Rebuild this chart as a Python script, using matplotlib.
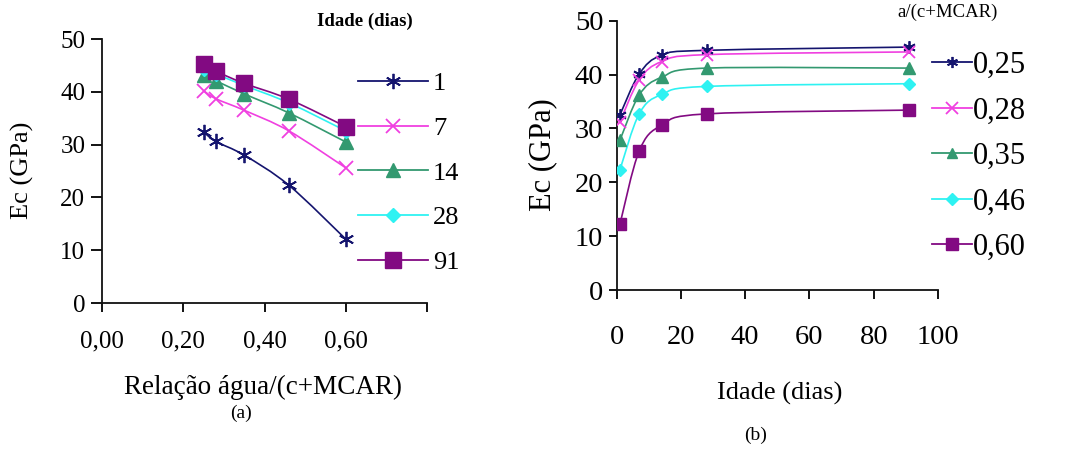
import numpy as np
import matplotlib
matplotlib.use("Agg")
import matplotlib.pyplot as plt
from matplotlib.path import Path
from matplotlib.patches import PathPatch
from matplotlib.lines import Line2D

plt.rcParams['font.family'] = ['Liberation Serif', 'DejaVu Serif']

# ---- Panel (a): Ec vs water/(c+MCAR) ratio, one series per age ----
ratio = [0.25, 0.28, 0.35, 0.46, 0.60]
age_labels = ['1', '7', '14', '28', '91']
ec_day1 = [32.4, 30.6, 28.0, 22.3, 12.1]
ec_day7 = [40.2, 38.7, 36.5, 32.6, 25.6]
ec_day14 = [43.1, 42.1, 39.6, 36.0, 30.5]
ec_day28 = [44.4, 43.4, 41.2, 37.9, 32.6]
ec_day91 = [45.2, 43.9, 41.6, 38.6, 33.4]

# ---- Panel (b): Ec vs age, one series per ratio ----
age = [1, 7, 14, 28, 91]
ratio_labels = ['0,25', '0,28', '0,35', '0,46', '0,60']
ec_r025 = [32.5, 40.1, 43.6, 44.5, 45.1]
ec_r028 = [31.2, 39.0, 42.4, 43.7, 44.2]
ec_r035 = [27.8, 36.2, 39.5, 41.2, 41.2]
ec_r046 = [22.3, 32.7, 36.3, 37.8, 38.3]
ec_r060 = [12.2, 25.8, 30.6, 32.7, 33.4]

colors = ['#14146e', '#f040e0', '#339970', '#2ef2f2', '#820a82']
markers = [(6, 2, 0), 'x', '^', 'D', 's']

def smooth_path(x, y):
    pts = np.column_stack([x, y]).astype(float)
    n = len(pts)
    verts = [pts[0]]
    codes = [Path.MOVETO]
    for i in range(n - 1):
        p0 = pts[i - 1] if i > 0 else pts[i]
        p1 = pts[i]
        p2 = pts[i + 1]
        p3 = pts[i + 2] if i + 2 < n else pts[i + 1]
        c1 = p1 + (p2 - p0) / 6.0
        c2 = p2 - (p3 - p1) / 6.0
        verts += [c1, c2, p2]
        codes += [Path.CURVE4] * 3
    return Path(verts, codes)

def marker_kw(c, m, ms):
    if m == 'x' or isinstance(m, tuple):
        return dict(marker=m, ms=ms, mec=c, mew=1.3)
    return dict(marker=m, ms=ms, mfc=c, mec=c)

fig = plt.figure(figsize=(10.9, 4.54), dpi=100)

def style_axes(ax):
    for s in ['top', 'right']:
        ax.spines[s].set_visible(False)
    for s in ['left', 'bottom']:
        ax.spines[s].set_linewidth(1.3)
        ax.spines[s].set_color('#111111')

# ---------- Left panel ----------
axL = fig.add_axes([102/1090, 1-303/454, 325/1090, 264/454])
style_axes(axL)
seriesL = [ec_day1, ec_day7, ec_day14, ec_day28, ec_day91]
msL = [11, 10, 10, 7, 11]
for yv, c, m, ms in zip(seriesL, colors, markers, msL):
    axL.add_patch(PathPatch(smooth_path(ratio, yv), facecolor='none',
                            edgecolor=c, lw=1.2, zorder=2))
    axL.plot(ratio, yv, ls='none', zorder=3, **marker_kw(c, m, ms))
axL.set_xlim(0, 0.8)
axL.set_ylim(0, 50)
axL.set_xticks([0, 0.2, 0.4, 0.6, 0.8])
axL.set_xticklabels(['0,00', '0,20', '0,40', '0,60', ''])
axL.set_yticks([0, 10, 20, 30, 40, 50])
axL.tick_params(axis='x', direction='out', length=6.5, width=1.3, pad=13, labelsize=18)
axL.tick_params(axis='y', direction='out', length=8, width=1.3, pad=4, labelsize=18)

handlesL = [Line2D([], [], color=c, lw=1.3, **marker_kw(c, m, ms))
            for c, m, ms in zip(colors, markers, msL)]
fig.legend(handlesL, age_labels, loc='upper left',
           bbox_to_anchor=(358/1090, 1-72/454), frameon=False,
           fontsize=19, handlelength=2.65, handletextpad=0.19,
           labelspacing=0.8, borderpad=0, borderaxespad=0)

fig.text(22/1090, 1-170/454, 'Ec (GPa)', rotation=90, ha='center', va='center', fontsize=19)
fig.text(263/1090, 1-387/454, 'Relação água/(c+MCAR)', ha='center', va='center', fontsize=19.5)
fig.text(241/1090, 1-413/454, '(a)', ha='center', va='center', fontsize=14)
fig.text(365/1090, 1-21/454, 'Idade (dias)', ha='center', va='center', fontsize=13.5, weight='bold')

# ---------- Right panel ----------
axR = fig.add_axes([616.7/1090, 1-290/454, 321.3/1090, 269.3/454])
style_axes(axR)
seriesR = [ec_r025, ec_r028, ec_r035, ec_r046, ec_r060]
msR = [9, 9, 8, 6.5, 9]
for yv, c, m, ms in zip(seriesR, colors, markers, msR):
    axR.add_patch(PathPatch(smooth_path(age, yv), facecolor='none',
                            edgecolor=c, lw=1.2, zorder=2))
    axR.plot(age, yv, ls='none', zorder=3, **marker_kw(c, m, ms))
axR.set_xlim(0, 100)
axR.set_ylim(0, 50)
axR.set_xticks([0, 20, 40, 60, 80, 100])
axR.set_yticks([0, 10, 20, 30, 40, 50])
axR.tick_params(axis='x', direction='out', length=6.5, width=1.3, pad=19, labelsize=20.5)
axR.tick_params(axis='y', direction='out', length=6, width=1.3, pad=3.6, labelsize=20.5)

msRl = [8, 8, 7, 6, 8]
handlesR = [Line2D([], [], color=c, lw=1.3, **marker_kw(c, m, ms))
            for c, m, ms in zip(colors, markers, msRl)]
fig.legend(handlesR, ratio_labels, loc='upper left',
           bbox_to_anchor=(932/1090, 1-51/454), frameon=False,
           fontsize=22, handlelength=1.3, handletextpad=0.03,
           labelspacing=0.54, borderpad=0, borderaxespad=0)

fig.text(543/1090, 1-155/454, 'Ec (GPa)', rotation=90, ha='center', va='center', fontsize=22)
fig.text(780/1090, 1-393/454, 'Idade (dias)', ha='center', va='center', fontsize=19)
fig.text(756/1090, 1-435/454, '(b)', ha='center', va='center', fontsize=14)
fig.text(948/1090, 1-12/454, 'a/(c+MCAR)', ha='center', va='center', fontsize=13.5)

fig.savefig('out.png', dpi=100)
